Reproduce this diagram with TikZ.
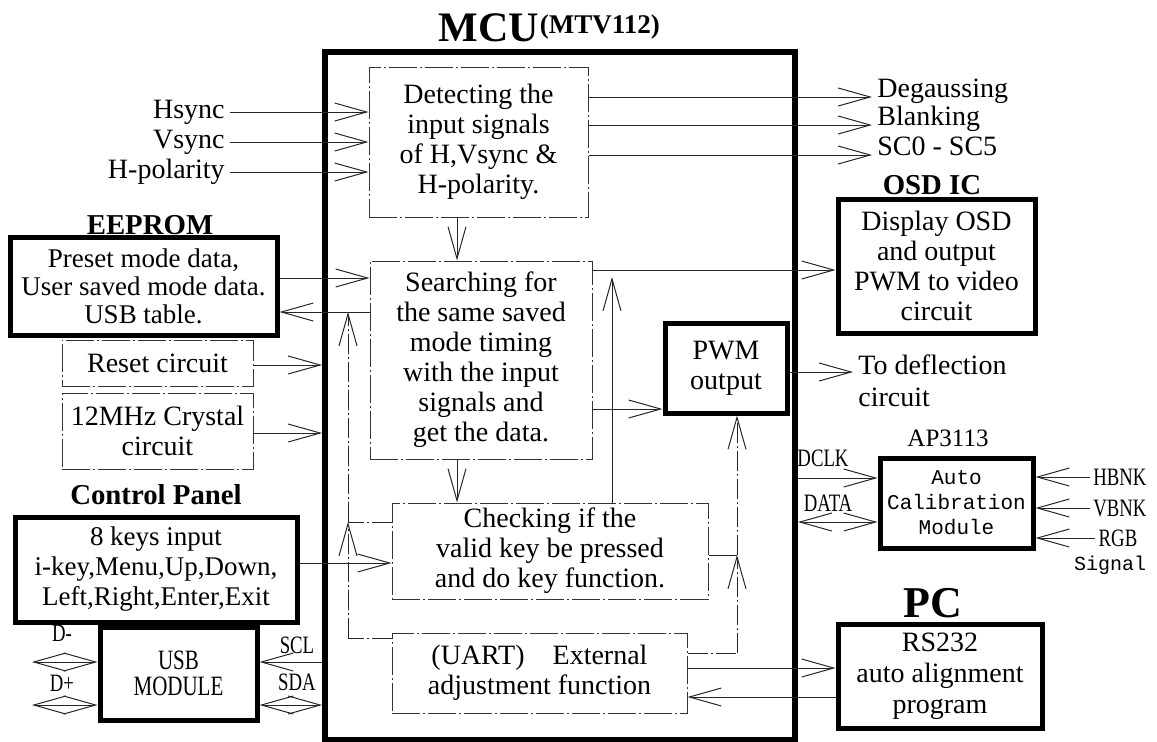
\documentclass[tikz,border=0pt]{standalone}
\usepackage{fontspec}
\setmainfont{Liberation Serif}
\newfontfamily\condfont[FakeStretch=0.75]{Liberation Serif}
\newfontfamily\calfont{Liberation Mono}
\usetikzlibrary{arrows.meta,positioning}

\tikzset{
  thick box/.style={draw, line width=2.5pt, inner sep=0pt, align=center,
    font=\fontsize{14}{15}\selectfont},
  thin box/.style={draw=black!80, line width=0.5pt,
    dash pattern=on 14pt off 1.5pt on 1pt off 1.5pt,
    inner sep=0pt, align=center, font=\fontsize{14}{15}\selectfont},
  txt/.style={inner sep=2.5pt, font=\fontsize{14}{16}\selectfont},
  head/.style={inner sep=0pt, font=\fontsize{14.4}{15}\selectfont\bfseries},
  tag/.style={inner sep=1.5pt, font=\fontsize{12.5}{13}\condfont},
  sig/.style={draw=black!85, line width=0.5pt, ->},
  fb/.style={draw=black!85, line width=0.5pt,
    dash pattern=on 10pt off 1.5pt on 1pt off 1.5pt},
}

\begin{document}
\begin{tikzpicture}[x=0.5pt,y=-0.5pt,>={Straight Barb[length=16pt,width=9pt]}]
\useasboundingbox (0,0) rectangle (1157,741);
%
% MCU frame
\node (mcu) [draw, line width=3pt, inner sep=0pt, minimum width=235pt,
  minimum height=344pt] at (560,396) {};
\node (mcuname) [inner sep=0pt, font=\fontsize{21}{21}\selectfont\bfseries,
  anchor=base] at (489,41) {MCU};
\node (mtv) [inner sep=0pt, font=\fontsize{13.5}{14}\selectfont\bfseries,
  anchor=base west, yshift=4pt] at (mcuname.base east) {(MTV112)};

% MCU tasks
\node (detect) [thin box, minimum width=109.5pt, minimum height=75pt] at (478.5,142)
  {Detecting the\\input signals\\of H,Vsync \&\\H-polarity.};
\node (search) [thin box, minimum width=111pt, minimum height=99pt] at (481,360)
  {Searching for\\the same saved\\mode timing\\with the input\\signals and\\get the data.};
\node (check) [thin box, minimum width=158pt, minimum height=48pt] at (550,551)
  {Checking if the\\valid key be pressed\\and do key function.};
\node (uart) [thin box, minimum width=147.5pt, minimum height=40pt] at (539.5,673)
  {(UART)\quad External\\adjustment function};
\node (pwm) [thick box, minimum width=61pt, minimum height=45pt] at (726,368)
  {PWM\\output};

% sync inputs
\node (hs) [txt, anchor=east] at (230,112) {Hsync};
\node (vs) [txt, anchor=east] at (230,142) {Vsync};
\node (hp) [txt, anchor=east] at (230,172) {H-polarity};

% detection outputs
\node (deg) [txt, anchor=base west] at (872,97) {Degaussing};
\node (blank) [txt, anchor=base west] at (872,125) {Blanking};
\node (sc) [txt, anchor=base west] at (872,155) {SC0 - SC5};

% EEPROM
\node (eehead) [head] at (150,225) {EEPROM};
\node (eeprom) [thick box, font=\fontsize{13.5}{14}\selectfont, minimum width=133.5pt,
  minimum height=49pt] at (143.5,286) {Preset mode data,\\User saved mode data.\\USB table.};

% reset and crystal
\node (reset) [thin box, minimum width=95.5pt, minimum height=23pt] at (157.5,363)
  {Reset circuit};
\node (crystal) [thin box, minimum width=95.5pt, minimum height=38pt] at (157.5,431)
  {12MHz Crystal\\circuit};

% Control Panel
\node (cphead) [head] at (156,495) {Control Panel};
\node (panel) [thick box, font=\fontsize{13.5}{15}\selectfont, minimum width=141pt,
  minimum height=52.5pt] at (156,569.5) {8 keys input\\i-key,Menu,Up,Down,\\Left,Right,Enter,Exit};

% USB module
\node (usb) [thick box, font=\fontsize{14}{13}\condfont, minimum width=78.5pt,
  minimum height=46.5pt] at (178.5,673.5) {USB\\MODULE};
\node (dm) [tag] at (62,633) {D-};
\node (dp) [tag] at (62,683) {D+};
\node (scl) [tag] at (297,645) {SCL};
\node (sda) [tag] at (297,682) {SDA};

% OSD IC
\node (osdhead) [head] at (932,185) {OSD IC};
\node (osd) [thick box, minimum width=98.5pt, minimum height=67pt] at (936.5,266)
  {Display OSD\\and output\\PWM to video\\circuit};
\node (defl) [txt, anchor=north west, align=left] at (853,349) {To deflection\\circuit};

% AP3113
\node (aptag) [tag, font=\fontsize{12.5}{13}\selectfont] at (948,438) {AP3113};
\node (acm) [thick box, font=\fontsize{10.5}{12.5}\calfont, minimum width=76.5pt,
  minimum height=45pt] at (956.5,503) {Auto\\Calibration\\Module};
\node (dclk) [tag] at (823,458) {DCLK};
\node (data) [tag] at (828,503) {DATA};
\node (hbnk) [tag, anchor=west] at (1090,477) {HBNK};
\node (vbnk) [tag, anchor=west] at (1090,508) {VBNK};
\node (rgb) [tag] at (1118,538) {RGB};
\node (signal) [tag, font=\fontsize{10}{12}\calfont] at (1110,565) {Signal};

% PC
\node (pchead) [head, font=\fontsize{22}{22}\selectfont\bfseries] at (933,603) {PC};
\node (pc) [thick box, font=\fontsize{14}{15.5}\selectfont, minimum width=102pt,
  minimum height=52pt] at (940,676) {RS232\\auto alignment\\program};

% levels
\coordinate (eeIn) at (0,278);
\coordinate (eeOut) at (0,312);
\coordinate (osdIn) at (0,270);
\coordinate (pwmIn) at (0,409);
\coordinate (deflIn) at (0,372);
\coordinate (rstY) at (0,365);
\coordinate (xtalY) at (0,433);
\coordinate (dclkY) at (0,478);
\coordinate (dataY) at (0,522);
\coordinate (chkL) at (0,522);
\coordinate (keyIn) at (0,563);
\coordinate (chkR) at (0,555);
\coordinate (uartL) at (0,638);
\coordinate (uartR) at (0,653);
\coordinate (pcIn) at (0,668);
\coordinate (pcOut) at (0,697);
\coordinate (usbA) at (0,662);
\coordinate (usbB) at (0,705);
\coordinate (usbL) at (32,0);
\coordinate (dnX) at (457,0);
\coordinate (fbL) at (348,0);
\coordinate (fbUp) at (612,0);
\coordinate (fbR) at (737,0);

% sync inputs
\draw[sig] (hs.east) -- (detect.west |- hs.east);
\draw[sig] (vs.east) -- (detect.west |- vs.east);
\draw[sig] (hp.east) -- (detect.west |- hp.east);
% detection outputs
\draw[sig] (detect.east |- deg.base west) -- (deg.base west);
\draw[sig] (detect.east |- blank.base west) -- (blank.base west);
\draw[sig] (detect.east |- sc.base west) -- (sc.base west);
% task flow
\draw[sig] (detect.south -| dnX) -- (search.north -| dnX);
\draw[sig] (search.south -| dnX) -- (check.north -| dnX);
% EEPROM
\draw[sig] (eeprom.east |- eeIn) -- (search.west |- eeIn);
\draw[sig] (search.west |- eeOut) -- (eeprom.east |- eeOut);
% reset and crystal
\draw[sig] (reset.east |- rstY) -- (mcu.west |- rstY);
\draw[sig] (crystal.east |- xtalY) -- (mcu.west |- xtalY);
% OSD and PWM
\draw[sig] (search.east |- osdIn) -- (osd.west |- osdIn);
\draw[sig, shorten >=3.5pt] (check.north -| fbUp) -- (fbUp |- osdIn);
\draw[sig] (search.east |- pwmIn) -- (pwm.west |- pwmIn);
\draw[sig] (pwm.east |- deflIn) -- (defl.west |- deflIn);
% AP3113
\draw[sig] (mcu.east |- dclkY) -- (acm.west |- dclkY);
\draw[sig, <->] (mcu.east |- dataY) -- (acm.west |- dataY);
\draw[sig] (hbnk.west) -- (acm.east |- hbnk.west);
\draw[sig] (vbnk.west) -- (acm.east |- vbnk.west);
\draw[sig] (rgb.west) -- (acm.east |- rgb.west);
% right feedback
\draw[fb] (uart.east |- uartR) -- (fbR |- uartR);
\draw[fb, ->] (fbR |- uartR) -- (fbR |- chkR);
\draw[sig, -] (check.east |- chkR) -- (fbR |- chkR);
\draw[fb, ->] (fbR |- chkR) -- (pwm.south -| fbR);
% PC
\draw[sig] (uart.east |- pcIn) -- (pc.west |- pcIn);
\draw[sig] (pc.west |- pcOut) -- (uart.east |- pcOut);
% left feedback
\draw[fb] (uart.west |- uartL) -- (fbL |- uartL);
\draw[fb, ->] (fbL |- uartL) -- (fbL |- chkL);
\draw[fb] (check.west |- chkL) -- (fbL |- chkL);
\draw[fb, ->] (fbL |- chkL) -- (fbL |- eeOut);
\draw[sig] (panel.east |- keyIn) -- (check.west |- keyIn);
% USB
\draw[sig] (mcu.west |- usbA) -- (usb.east |- usbA);
\draw[sig, <->] (usb.east |- usbB) -- (mcu.west |- usbB);
\draw[sig, <->] (usbL |- usbA) -- (usb.west |- usbA);
\draw[sig, <->] (usbL |- usbB) -- (usb.west |- usbB);
\end{tikzpicture}
\end{document}
